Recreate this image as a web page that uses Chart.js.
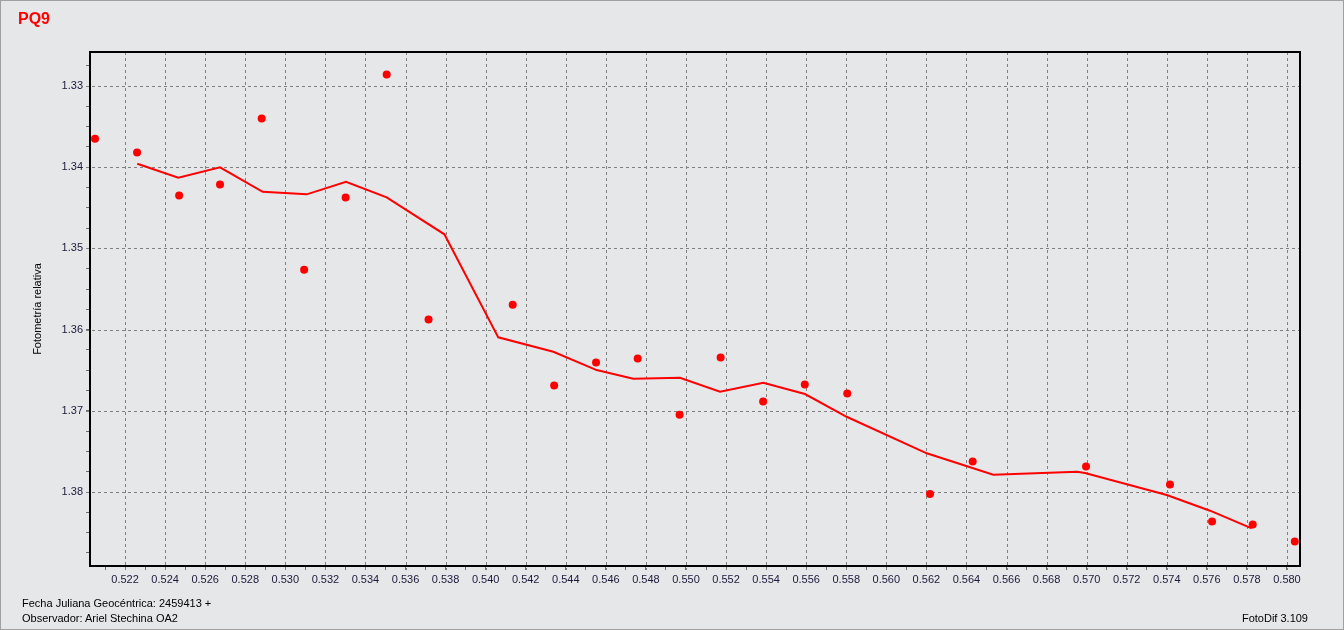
<!DOCTYPE html>
<html lang="es">
<head>
  <meta charset="UTF-8">
  <title>PQ9 - Fotometría relativa</title>
  <script src="https://cdn.jsdelivr.net/npm/chart.js"></script>
  <style>
    html, body { margin: 0; padding: 0; overflow: hidden; background: #e6e7e9; }
    #frame {
      position: absolute; left: 0; top: 0; width: 1342px; height: 628px;
      border: 1px solid #a0a0a0; background: #e6e7e9;
    }
    #chartBox { position: absolute; left: 0; top: 0; width: 1344px; height: 630px; }
    .txt { position: absolute; font-family: "Liberation Sans", Arial, sans-serif; white-space: nowrap; }
    #title { left: 18px; top: 10px; font-size: 16px; font-weight: bold; color: #ff0000; }
    .foot { font-size: 11px; line-height: 13px; color: #000; }
  </style>
</head>
<body>
  <div id="frame"></div>
  <div id="chartBox"><canvas id="pq9Chart"></canvas></div>
  <div id="title" class="txt">PQ9</div>
  <div class="txt foot" style="left:22px; top:597px;">Fecha Juliana Geocéntrica: 2459413 +</div>
  <div class="txt foot" style="left:22px; top:612px;">Observador: Ariel Stechina OA2</div>
  <div class="txt foot" style="right:36px; top:612px;">FotoDif 3.109</div>

  <script>
    // Observations (fraction of JD after 2459413) and relative photometry
    const obsX = [0.52050, 0.52260, 0.52470, 0.52674, 0.52882, 0.53094, 0.53301, 0.53506,
                  0.53715, 0.54135, 0.54342, 0.54551, 0.54759, 0.54968, 0.55173, 0.55385,
                  0.55593, 0.55805, 0.56218, 0.56431, 0.56997, 0.57416, 0.57626, 0.57829, 0.58039];
    const obsY = [1.33649, 1.33818, 1.34347, 1.34212, 1.33399, 1.35262, 1.34372, 1.32857,
                  1.35874, 1.35693, 1.36687, 1.36404, 1.36355, 1.37048, 1.36342, 1.36884,
                  1.36675, 1.36786, 1.38025, 1.37623, 1.37685, 1.37906, 1.38362, 1.38399, 1.38608];

    // Smoothed curve
    const fitX = [0.52261, 0.52466, 0.52674, 0.52887, 0.53107, 0.53303, 0.53506, 0.53794,
                  0.54063, 0.54338, 0.54554, 0.54737, 0.54970, 0.55170, 0.55386, 0.55594,
                  0.55802, 0.56202, 0.56534, 0.56952, 0.56992, 0.57400, 0.57616, 0.57824];
    const fitY = [1.33957, 1.34129, 1.34001, 1.34302, 1.34334, 1.34179, 1.34371, 1.34826,
                  1.36095, 1.36272, 1.36498, 1.36605, 1.36592, 1.36765, 1.36654, 1.36793,
                  1.37073, 1.37523, 1.37787, 1.37750, 1.37766, 1.38037, 1.38230, 1.38447];

    // Axis ranges and tick steps
    const xRange = [0.52025, 0.58065];
    const yRange = [1.32581, 1.38911];
    const xStep = 0.001;
    const yStep = 0.0025;

    const toPoints = (xs, ys) => xs.map((x, i) => ({ x: x, y: ys[i] }));
    // labelled ticks: every 0.002 on x, every 0.01 on y
    const xMajor = (v) => Math.round(v * 1000) % 2 === 0;
    const yMajor = (v) => Math.round(v * 10000) % 100 === 0;

    Chart.defaults.font.family = '"Liberation Sans", Arial, sans-serif';
    Chart.defaults.font.size = 11;

    // Dashed grid on the labelled ticks only, plus a black frame round the plot
    const plotFrame = {
      id: 'plotFrame',
      beforeDatasetsDraw(chart) {
        const a = chart.chartArea;
        const ctx = chart.ctx;
        const xs = chart.scales.x, ys = chart.scales.y;
        ctx.save();
        ctx.strokeStyle = '#808080';
        ctx.lineWidth = 1;
        ctx.setLineDash([3, 3]);
        xs.ticks.filter(t => xMajor(t.value)).forEach(t => {
          const px = Math.round(xs.getPixelForValue(t.value)) + 0.5;
          ctx.beginPath();
          ctx.moveTo(px, a.top);
          ctx.lineTo(px, a.bottom + 4);
          ctx.stroke();
        });
        ys.ticks.filter(t => yMajor(t.value)).forEach(t => {
          const py = Math.round(ys.getPixelForValue(t.value)) + 0.5;
          ctx.beginPath();
          ctx.moveTo(a.left - 4, py);
          ctx.lineTo(a.right, py);
          ctx.stroke();
        });
        ctx.restore();
      },
      afterDraw(chart) {
        const a = chart.chartArea;
        const ctx = chart.ctx;
        ctx.save();
        ctx.strokeStyle = '#000';
        ctx.lineWidth = 2;
        ctx.strokeRect(a.left, a.top, a.right - a.left, a.bottom - a.top);
        ctx.restore();
      }
    };

    const ctx = document.getElementById('pq9Chart').getContext('2d');
    new Chart(ctx, {
      type: 'scatter',
      data: {
        datasets: [
          {
            label: 'Curva',
            data: toPoints(fitX, fitY),
            showLine: true,
            borderColor: '#ff0000',
            borderWidth: 2,
            pointRadius: 0,
            tension: 0
          },
          {
            label: 'PQ9',
            data: toPoints(obsX, obsY),
            backgroundColor: '#ff0000',
            borderColor: '#ff0000',
            pointRadius: 4,
            pointBorderWidth: 0
          }
        ]
      },
      options: {
        responsive: true,
        maintainAspectRatio: false,
        animation: false,
        layout: { padding: { left: 0, top: 52, right: 44, bottom: 34 } },
        plugins: { legend: { display: false }, tooltip: { enabled: false } },
        scales: {
          x: {
            type: 'linear',
            min: xRange[0],
            max: xRange[1],
            afterFit: (scale) => { scale.height = 30; },
            border: { display: false },
            grid: {
              drawOnChartArea: false,
              color: '#707070',
              tickLength: 4,
              lineWidth: 1
            },
            ticks: {
              stepSize: xStep,
              includeBounds: false,
              autoSkip: false,
              maxRotation: 0,
              minRotation: 0,
              padding: 3,
              color: '#1a1a3a',
              callback: (v) => xMajor(v) ? Number(v).toFixed(3) : ''
            }
          },
          y: {
            type: 'linear',
            reverse: true,
            min: yRange[0],
            max: yRange[1],
            afterFit: (scale) => { scale.width = 90; },
            border: { display: false },
            grid: {
              drawOnChartArea: false,
              color: '#707070',
              tickLength: 4,
              lineWidth: 1
            },
            ticks: {
              stepSize: yStep,
              includeBounds: false,
              autoSkip: false,
              padding: 3,
              color: '#1a1a3a',
              callback: (v) => yMajor(v) ? Number(v).toFixed(2) : ''
            },
            title: {
              display: true,
              text: 'Fotometría relativa',
              color: '#000',
              font: { size: 11 },
              padding: { top: 31, bottom: 0 }
            }
          }
        }
      },
      plugins: [plotFrame]
    });
  </script>
</body>
</html>
